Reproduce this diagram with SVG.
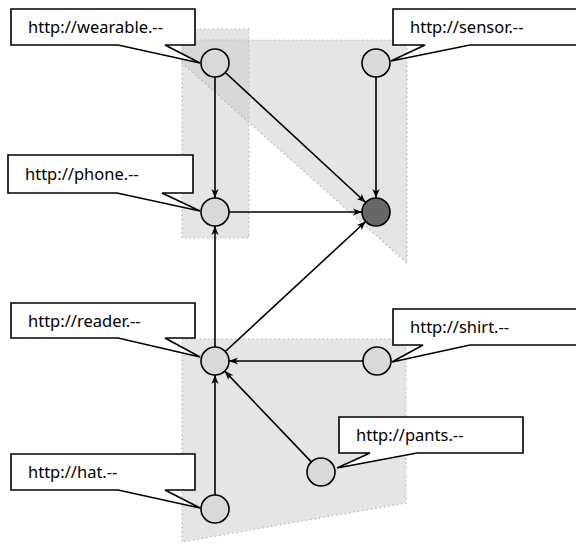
<svg xmlns="http://www.w3.org/2000/svg" width="576" height="546" viewBox="0 0 576 546">
<style>
.region{fill:#cccccc;fill-opacity:0.5;stroke:#aaaaaa;stroke-width:1.2;stroke-dasharray:1.2 3.2}
.node{fill:#d9d9d9;stroke:#000;stroke-width:1.6}
.dark{fill:#666666;stroke:#000;stroke-width:1.6}
.callout{fill:#fff;stroke:#000;stroke-width:1.6;stroke-linejoin:miter}
.label{font-family:"Noto Sans","DejaVu Sans",sans-serif;font-size:16.5px;fill:#000}
.edge{stroke:#000;stroke-width:1.6;fill:none;marker-end:url(#arr)}
</style>
<defs>
<marker id="arr" markerUnits="userSpaceOnUse" viewBox="-10 -5 11 10" refX="0" refY="0" markerWidth="11" markerHeight="10" orient="auto">
<path d="M0,0 L-9,-3.6 L-6.5,0 L-9,3.6 Z" fill="#000"/>
</marker>
</defs>
<g id="regions">
<rect class="region" x="182" y="29" width="67" height="209"/>
<polygon class="region" points="182,40 407,40 407,263 182,63"/>
<polygon class="region" points="182,339 406,339 406,503 182,542"/>
</g>
<g id="connectors">
<line class="edge" x1="215" y1="77" x2="215" y2="198"/>
<line class="edge" x1="225.3" y1="72.5" x2="365.7" y2="202.5"/>
<line class="edge" x1="376" y1="77" x2="376" y2="198"/>
<line class="edge" x1="229" y1="212" x2="362" y2="212"/>
<line class="edge" x1="215" y1="347" x2="215" y2="226"/>
<line class="edge" x1="225.3" y1="351.5" x2="365.7" y2="221.5"/>
<line class="edge" x1="363" y1="361" x2="229" y2="361"/>
<line class="edge" x1="311.3" y1="461.9" x2="224.7" y2="371.1"/>
<line class="edge" x1="215" y1="495" x2="215" y2="375"/>
</g>
<g id="wearable">
<circle class="node" cx="215" cy="63" r="14"/>
<path class="callout" d="M11,9 H195 V45 H165 L200,63 L118,45 H11 Z"/>
<text class="label" x="28" y="33">http://wearable.--</text>
</g>
<g id="sensor">
<circle class="node" cx="376" cy="63" r="14"/>
<path class="callout" d="M393,9 H578 V45 H470 L391,61 L425,45 H393 Z"/>
<text class="label" x="410" y="33">http://sensor.--</text>
</g>
<g id="phone">
<circle class="node" cx="215" cy="212" r="14"/>
<path class="callout" d="M8,155 H193 V193 H162 L200,211 L117,193 H8 Z"/>
<text class="label" x="25" y="180">http://phone.--</text>
</g>
<g id="target">
<circle class="dark" cx="376" cy="212" r="14"/>
</g>
<g id="reader">
<circle class="node" cx="215" cy="361" r="14"/>
<path class="callout" d="M11,303 H195 V338 H165 L200,357 L118,338 H11 Z"/>
<text class="label" x="28" y="327">http://reader.--</text>
</g>
<g id="shirt">
<circle class="node" cx="377" cy="361" r="14"/>
<path class="callout" d="M393,309 H578 V345 H470 L392,362 L423,345 H393 Z"/>
<text class="label" x="410" y="333">http://shirt.--</text>
</g>
<g id="pants">
<circle class="node" cx="321" cy="472" r="14"/>
<path class="callout" d="M339,417 H523 V453 H417 L337,468 L370,453 H339 Z"/>
<text class="label" x="356" y="441">http://pants.--</text>
</g>
<g id="hat">
<circle class="node" cx="215" cy="509" r="14"/>
<path class="callout" d="M11,454 H195 V490 H165 L200,508 L118,490 H11 Z"/>
<text class="label" x="28" y="478">http://hat.--</text>
</g>
</svg>
